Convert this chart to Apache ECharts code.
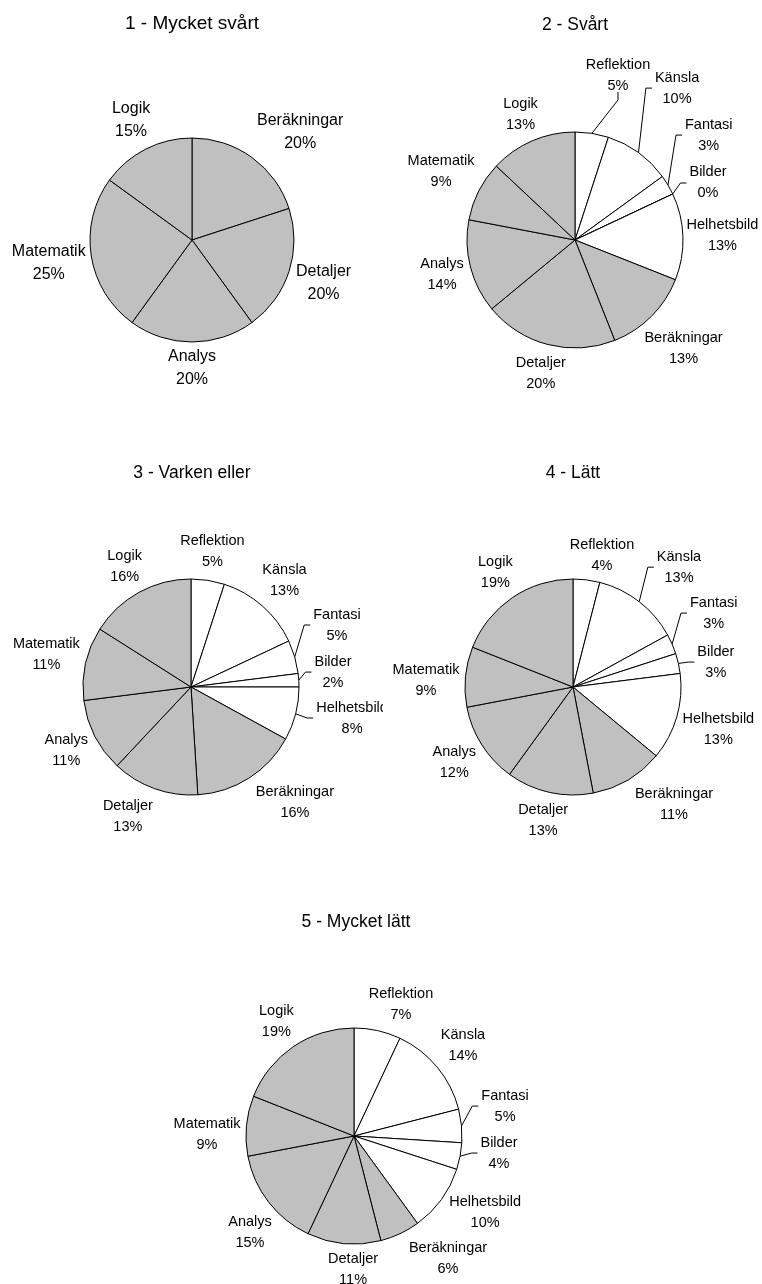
<!DOCTYPE html>
<html>
<head>
<meta charset="utf-8">
<script src="https://cdn.jsdelivr.net/npm/echarts@6/dist/echarts.min.js"></script>
<style>
  html, body { margin: 0; padding: 0; background: #fff; }
  body { position: relative; width: 762px; height: 1284px; overflow: hidden; }
  .pane { position: absolute; overflow: hidden; }
</style>
</head>
<body>
<div id="p1" class="pane" style="left:0;top:0;width:381px;height:450px"></div>
<div id="p2" class="pane" style="left:381px;top:0;width:381px;height:450px"></div>
<div id="p3" class="pane" style="left:0;top:450px;width:383px;height:450px"></div>
<div id="p4" class="pane" style="left:383px;top:450px;width:379px;height:450px"></div>
<div id="p5" class="pane" style="left:0;top:900px;width:762px;height:384px"></div>
<script>
// Categories, clockwise from 12 o'clock
const categories = ['Reflektion', 'Känsla', 'Fantasi', 'Bilder', 'Helhetsbild',
                    'Beräkningar', 'Detaljer', 'Analys', 'Matematik', 'Logik'];
const whiteCategories = ['Reflektion', 'Känsla', 'Fantasi', 'Bilder', 'Helhetsbild'];

const titles = ['1 - Mycket svårt', '2 - Svårt', '3 - Varken eller', '4 - Lätt', '5 - Mycket lätt'];

// Share (%) per category for each difficulty level
const veryHard = [null, null, null, null, null, 20, 20, 20, 25, 15];
const hard     = [5, 10, 3, 0, 13, 13, 20, 14, 9, 13];
const neither  = [5, 13, 5, 2, 8, 16, 13, 11, 11, 16];
const easy     = [4, 13, 3, 3, 13, 11, 13, 12, 9, 19];
const veryEasy = [7, 14, 5, 4, 10, 6, 11, 15, 9, 19];

const FONT = '"Liberation Sans", Arial, sans-serif';

// Panel layout: pie geometry, fonts, and labels that sit off their default spot
// (moved: [angle clockwise from top in degrees, distance from centre in px]).
// leaders: labels joined to their slice by a leader line, and the label side it meets.
const panels = [
  { id: 'p1', values: veryHard, cx: 192, cy: 240, r: 102, titleX: 192, titleTop: 14,
    titleSize: 19, labelSize: 16, lineHeight: 23, gap: 3,
    moved: { 'Beräkningar': [45, 153] }, leaders: {} },
  { id: 'p2', values: hard, cx: 194, cy: 240, r: 108, titleX: 194, titleTop: 16,
    titleSize: 17.5, labelSize: 14.5, lineHeight: 21, gap: 3,
    moved: { 'Reflektion': [14.6, 170.5], 'Känsla': [33.9, 183], 'Fantasi': [51.9, 170], 'Bilder': [66.8, 144.7] },
    leaders: { 'Reflektion': 'bottom', 'Känsla': 'left', 'Fantasi': 'left', 'Bilder': 'left' } },
  { id: 'p3', values: neither, cx: 191, cy: 237, r: 108, titleX: 192, titleTop: 13.5,
    titleSize: 17.5, labelSize: 14.5, lineHeight: 21, gap: 3,
    moved: { 'Fantasi': [67, 158.6], 'Bilder': [84, 142.8], 'Helhetsbild': [100.9, 164],
             'Beräkningar': [137.9, 155], 'Detaljer': [205.9, 144.5] },
    leaders: { 'Fantasi': 'left', 'Bilder': 'left', 'Helhetsbild': 'left' } },
  { id: 'p4', values: easy, cx: 190, cy: 237, r: 108, titleX: 190, titleTop: 13.8,
    titleSize: 17.5, labelSize: 14.5, lineHeight: 21, gap: 3,
    moved: { 'Reflektion': [12.4, 135], 'Känsla': [41.5, 160], 'Fantasi': [62.3, 159], 'Bilder': [80.1, 145],
             'Beräkningar': [139.2, 154.6], 'Matematik': [272.7, 147.2] },
    leaders: { 'Känsla': 'left', 'Fantasi': 'left', 'Bilder': 'left' } },
  { id: 'p5', values: veryEasy, cx: 354, cy: 236, r: 108, titleX: 356, titleTop: 12.7,
    titleSize: 17.5, labelSize: 14.5, lineHeight: 21, gap: 3,
    moved: { 'Reflektion': [19.6, 140], 'Fantasi': [78.8, 154], 'Bilder': [96.7, 146],
             'Helhetsbild': [120.4, 152], 'Beräkningar': [142.6, 154.8], 'Detaljer': [180.4, 134],
             'Analys': [227, 142.2], 'Matematik': [270.4, 147] },
    leaders: { 'Fantasi': 'left', 'Bilder': 'left' } }
];

function buildOption(p, title) {
  const data = categories
    .map((name, i) => ({
      name: name,
      value: p.values[i],
      itemStyle: { color: whiteCategories.indexOf(name) >= 0 ? '#ffffff' : '#c0c0c0' },
      labelLine: { show: !!p.leaders[name] }
    }))
    .filter(d => d.value !== null);

  // mid angle of every slice, clockwise from 12 o'clock
  const total = data.reduce((s, d) => s + d.value, 0);
  let acc = 0;
  const mids = data.map(d => {
    const m = (acc + d.value / 2) / total * 360;
    acc += d.value;
    return m;
  });

  const rad = Math.PI / 180;
  const labelLayout = function (params) {
    const i = params.dataIndex;
    const name = data[i].name;
    const w = params.labelRect.width;
    const h = params.labelRect.height;
    const over = p.moved[name];
    let ang, dist;
    if (over) {
      ang = over[0];
      dist = over[1];
    } else {
      ang = mids[i];
      const ux = Math.sin(ang * rad), uy = -Math.cos(ang * rad);
      dist = p.r + p.gap + Math.abs(ux) * w / 2 + Math.abs(uy) * h / 2;
    }
    const x = p.cx + Math.sin(ang * rad) * dist;
    const y = p.cy - Math.cos(ang * rad) * dist;
    const out = { x: x, y: y, align: 'center', verticalAlign: 'middle' };

    const side = p.leaders[name];
    if (side) {
      // leader: from the slice edge at its mid angle, to a short tick on the label
      const edge = [p.cx + Math.sin(mids[i] * rad) * p.r, p.cy - Math.cos(mids[i] * rad) * p.r];
      let end, bend;
      if (side === 'bottom') {
        end = [x, y + h / 2 - 4];
        bend = [x, end[1] + 8];
      } else {
        end = [x - w / 2 - 3, y];
        bend = [end[0] - 6, y];
      }
      out.labelLinePoints = [edge, bend, end];
    }
    return out;
  };

  return {
    animation: false,
    backgroundColor: '#ffffff',
    title: {
      text: title,
      left: p.titleX,
      top: p.titleTop,
      textAlign: 'center',
      padding: 0,
      textStyle: {
        fontFamily: FONT,
        fontSize: p.titleSize,
        lineHeight: p.titleSize + 1,
        fontWeight: 'normal',
        color: '#000'
      }
    },
    series: [{
      type: 'pie',
      center: [p.cx, p.cy],
      radius: p.r,
      startAngle: 90,
      clockwise: true,
      silent: true,
      avoidLabelOverlap: false,
      itemStyle: { borderColor: '#000', borderWidth: 1 },
      label: {
        show: true,
        position: 'outside',
        formatter: '{b}\n{c}%',
        color: '#000',
        fontFamily: FONT,
        fontSize: p.labelSize,
        lineHeight: p.lineHeight,
        align: 'center'
      },
      labelLine: {
        show: false,
        length: 10,
        length2: 6,
        smooth: false,
        minTurnAngle: 0,
        lineStyle: { color: '#000', width: 1 }
      },
      emphasis: { disabled: true },
      labelLayout: labelLayout,
      data: data
    }]
  };
}

panels.forEach((p, k) => {
  const chart = echarts.init(document.getElementById(p.id), null, { renderer: 'canvas' });
  chart.setOption(buildOption(p, titles[k]));
});
</script>
</body>
</html>
